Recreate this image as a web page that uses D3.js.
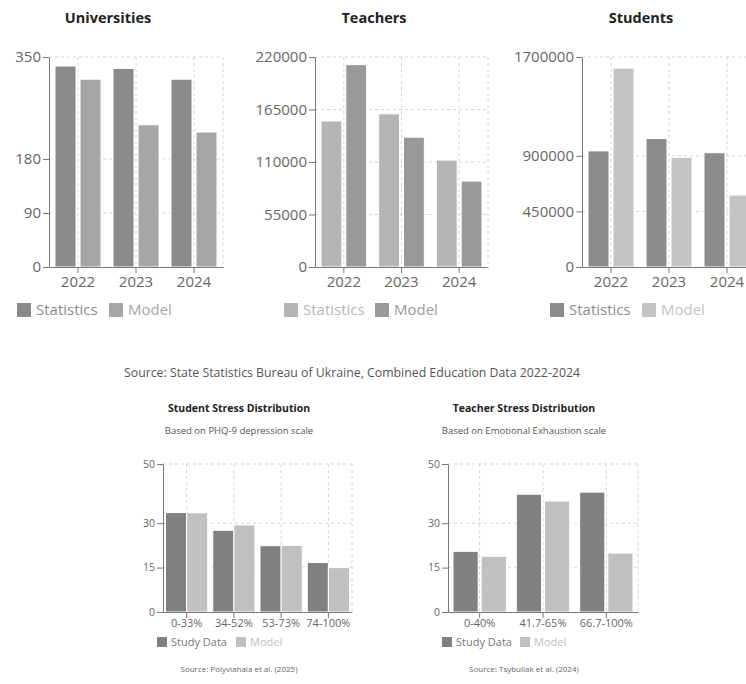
<!DOCTYPE html>
<html>
<head>
<meta charset="utf-8">
<script src="https://cdn.jsdelivr.net/npm/d3@7"></script>
<style>
  html, body { margin: 0; padding: 0; background: #fff; }
  svg { display: block; font-family: "Open Sans", "Noto Sans", sans-serif; }
</style>
</head>
<body>
<svg id="chart" width="746" height="684"></svg>
<script>
// ---------- DATA ----------
const years = ["2022", "2023", "2024"];
const universitiesStatistics = [335, 331, 313];
const universitiesModel = [313, 237, 225];
const teachersStatistics = [153000, 160500, 112000];
const teachersModel = [212000, 136000, 90000];
const studentsStatistics = [940000, 1040000, 925000];
const studentsModel = [1610000, 888000, 583000];
const universitiesTicks = [0, 90, 180, 350];
const teachersTicks = [0, 55000, 110000, 165000, 220000];
const studentsTicks = [0, 450000, 900000, 1700000];

const studentStressBins = ["0-33%", "34-52%", "53-73%", "74-100%"];
const studentStressStudy = [33.6, 27.6, 22.4, 16.7];
const studentStressModel = [33.5, 29.4, 22.5, 15.0];
const teacherStressBins = ["0-40%", "41.7-65%", "66.7-100%"];
const teacherStressStudy = [20.5, 39.8, 40.5];
const teacherStressModel = [18.8, 37.5, 19.9];
const stressTicks = [0, 15, 30, 50];

const topSeriesNames = ["Statistics", "Model"];
const bottomSeriesNames = ["Study Data", "Model"];

// ---------- DRAW ----------
const svg = d3.select("#chart");
svg.append("rect").attr("width", 746).attr("height", 684).attr("fill", "#fff");

function drawChart(cfg) {
  const g = svg.append("g");
  const x = d3.scaleBand().domain(cfg.categories).range([cfg.x0, cfg.x1]).paddingInner(0).paddingOuter(0);
  const y = d3.scaleLinear().domain([0, cfg.ticks[cfg.ticks.length - 1]]).range([cfg.y1, cfg.y0]);

  // grid
  const grid = g.append("g").attr("stroke", "#d4d4d4").attr("stroke-dasharray", "3 3").attr("fill", "none");
  cfg.ticks.filter(t => t !== 0).forEach(t => {
    grid.append("line").attr("x1", cfg.x0).attr("x2", cfg.x1).attr("y1", y(t)).attr("y2", y(t));
  });
  cfg.categories.forEach(c => {
    const cx = x(c) + x.bandwidth() / 2;
    grid.append("line").attr("x1", cx).attr("x2", cx).attr("y1", cfg.y0).attr("y2", cfg.y1);
  });
  grid.append("line").attr("x1", cfg.x1).attr("x2", cfg.x1).attr("y1", cfg.y0).attr("y2", cfg.y1);

  // bars
  const bw = x.bandwidth();
  const barW = (bw - 2 * cfg.catPad - cfg.barGap) / 2;
  cfg.series.forEach((s, si) => {
    g.append("g").selectAll("rect").data(s.values).join("rect")
      .attr("x", (d, i) => x(cfg.categories[i]) + cfg.catPad + si * (barW + cfg.barGap))
      .attr("width", barW)
      .attr("y", d => y(d))
      .attr("height", d => cfg.y1 - y(d))
      .attr("fill", s.color)
      .attr("stroke", "#fff")
      .attr("stroke-width", 1);
  });

  // axes
  const yAxis = g.append("g").attr("transform", `translate(${cfg.x0},0)`)
    .call(d3.axisLeft(y).tickValues(cfg.ticks).tickFormat(d3.format("d")).tickSize(6).tickSizeOuter(0).tickPadding(2));
  const xAxis = g.append("g").attr("transform", `translate(0,${cfg.y1})`)
    .call(d3.axisBottom(x).tickSize(6).tickSizeOuter(0).tickPadding(cfg.xPad));
  [yAxis, xAxis].forEach(a => {
    a.select(".domain").attr("stroke", "#777");
    a.selectAll(".tick line").attr("stroke", "#777");
    a.selectAll(".tick text").attr("fill", "#666").attr("font-family", "Open Sans, Noto Sans, sans-serif");
  });
  yAxis.selectAll(".tick text").attr("font-size", cfg.yFont);
  xAxis.selectAll(".tick text").attr("font-size", cfg.xFont);

  // title
  g.append("text").attr("x", cfg.titleX).attr("y", cfg.titleY).attr("text-anchor", "middle")
    .attr("font-size", cfg.titleSize).attr("font-weight", "bold").attr("fill", "#222").text(cfg.title);
  if (cfg.subtitle) {
    g.append("text").attr("x", cfg.titleX).attr("y", cfg.subY).attr("text-anchor", "middle")
      .attr("font-size", cfg.subSize).attr("fill", "#555").text(cfg.subtitle);
  }
  // legend
  cfg.series.forEach((s, si) => {
    const lx = cfg.legendX[si];
    g.append("rect").attr("x", lx).attr("y", cfg.legendY - cfg.iconSize / 2).attr("width", cfg.iconSize).attr("height", cfg.iconSize).attr("fill", s.color);
    g.append("text").attr("x", lx + cfg.iconSize + cfg.iconGap).attr("y", cfg.legendY).attr("dy", "0.35em")
      .attr("font-size", cfg.legendFont).attr("fill", s.textColor || s.color).text(s.name);
  });
  if (cfg.source) {
    g.append("text").attr("x", cfg.titleX).attr("y", cfg.sourceY).attr("text-anchor", "middle")
      .attr("font-size", cfg.sourceSize).attr("fill", "#666").text(cfg.source);
  }
}

const topCommon = { y0: 57, y1: 267, catPad: 6, barGap: 4, yFont: 15, xFont: 15, xPad: 3,
  titleY: 23, titleSize: 14.5, iconSize: 14, iconGap: 5, legendFont: 15, legendY: 310 };

drawChart(Object.assign({}, topCommon, {
  categories: years, ticks: universitiesTicks, x0: 49, x1: 223, title: "Universities", titleX: 108,
  legendX: [17, 109],
  series: [{ name: topSeriesNames[0], values: universitiesStatistics, color: "#8a8a8a" },
           { name: topSeriesNames[1], values: universitiesModel, color: "#a6a6a6" }]
}));
drawChart(Object.assign({}, topCommon, {
  categories: years, ticks: teachersTicks, x0: 315, x1: 488, title: "Teachers", titleX: 374,
  legendX: [284, 375],
  series: [{ name: topSeriesNames[0], values: teachersStatistics, color: "#b5b5b5" },
           { name: topSeriesNames[1], values: teachersModel, color: "#999999" }]
}));
drawChart(Object.assign({}, topCommon, {
  categories: years, ticks: studentsTicks, x0: 582, x1: 756, title: "Students", titleX: 641,
  legendX: [550, 642],
  series: [{ name: topSeriesNames[0], values: studentsStatistics, color: "#8c8c8c" },
           { name: topSeriesNames[1], values: studentsModel, color: "#c4c4c4" }]
}));

svg.append("text").attr("x", 352).attr("y", 377).attr("text-anchor", "middle")
  .attr("font-size", 12.3).attr("fill", "#555")
  .text("Source: State Statistics Bureau of Ukraine, Combined Education Data 2022-2024");

const botCommon = { y0: 464, y1: 612, yFont: 10.5, xFont: 11, xPad: 1,
  titleY: 412, titleSize: 10.5, subY: 434, subSize: 9.5, iconSize: 10, iconGap: 4, legendFont: 11, legendY: 642,
  sourceY: 672, sourceSize: 8 };

drawChart(Object.assign({}, botCommon, {
  categories: studentStressBins, ticks: stressTicks, x0: 163, x1: 352, catPad: 2.5, barGap: 0,
  title: "Student Stress Distribution", subtitle: "Based on PHQ-9 depression scale", titleX: 239,
  legendX: [157, 236], source: "Source: Polyvianaia et al. (2025)",
  series: [{ name: bottomSeriesNames[0], values: studentStressStudy, color: "#808080", textColor: "#777" },
           { name: bottomSeriesNames[1], values: studentStressModel, color: "#c0c0c0" }]
}));
drawChart(Object.assign({}, botCommon, {
  categories: teacherStressBins, ticks: stressTicks, x0: 448, x1: 638, catPad: 5, barGap: 3,
  title: "Teacher Stress Distribution", subtitle: "Based on Emotional Exhaustion scale", titleX: 524,
  legendX: [442, 520], source: "Source: Tsybuliak et al. (2024)",
  series: [{ name: bottomSeriesNames[0], values: teacherStressStudy, color: "#808080", textColor: "#777" },
           { name: bottomSeriesNames[1], values: teacherStressModel, color: "#c0c0c0" }]
}));
</script>
</body>
</html>
